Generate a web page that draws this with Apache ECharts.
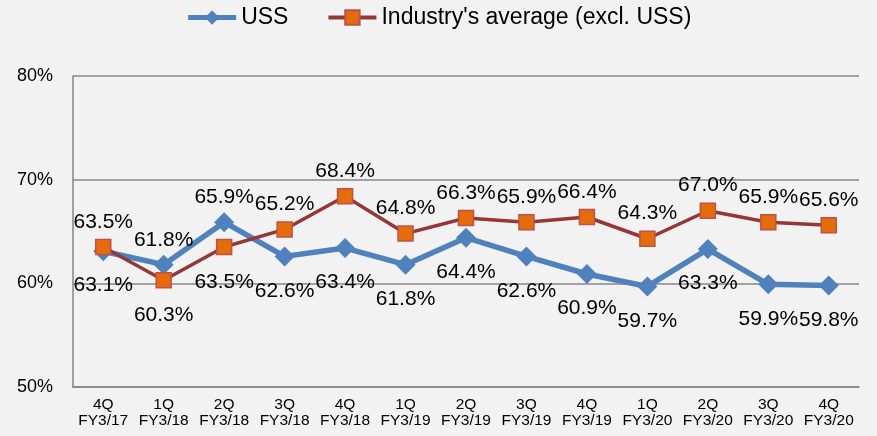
<!DOCTYPE html>
<html>
<head>
<meta charset="utf-8">
<script src="https://cdn.jsdelivr.net/npm/echarts@6/dist/echarts.min.js"></script>
<style>
  html, body { margin: 0; padding: 0; background: #f2f2f2; }
  #chart { width: 877px; height: 436px; }
</style>
</head>
<body>
<div id="chart"></div>
<script>
const categories = ['4Q\nFY3/17', '1Q\nFY3/18', '2Q\nFY3/18', '3Q\nFY3/18', '4Q\nFY3/18', '1Q\nFY3/19',
  '2Q\nFY3/19', '3Q\nFY3/19', '4Q\nFY3/19', '1Q\nFY3/20', '2Q\nFY3/20', '3Q\nFY3/20', '4Q\nFY3/20']
const ussValues = [63.1, 61.8, 65.9, 62.6, 63.4, 61.8, 64.4, 62.6, 60.9, 59.7, 63.3, 59.9, 59.8]
const industryValues = [63.5, 60.3, 63.5, 65.2, 68.4, 64.8, 66.3, 65.9, 66.4, 64.3, 67.0, 65.9, 65.6]

const font = 'Liberation Sans, Arial, sans-serif'

// label goes above for the higher line, below for the lower one
function labelFor(above, symbolSize) {
  const half = symbolSize / 2
  return above
    ? { position: 'top', distance: 14 - half }
    : { position: 'bottom', distance: 24 - half }
}
const ussData = ussValues.map((v, i) => ({
  value: v,
  label: labelFor(v > industryValues[i], 20)
}))
const industryData = industryValues.map((v, i) => ({
  value: v,
  label: labelFor(v >= ussValues[i], 15)
}))

const chart = echarts.init(document.getElementById('chart'))
chart.setOption({
  animation: false,
  backgroundColor: '#f2f2f2',
  textStyle: { fontFamily: font },
  legend: {
    top: 1,
    left: 'center',
    itemWidth: 48,
    itemHeight: 18,
    itemGap: 38,
    textStyle: { fontSize: 23, color: '#000', fontFamily: font },
    data: [
      { name: 'USS', lineStyle: { width: 5 } },
      { name: "Industry's average (excl. USS)", lineStyle: { width: 4 } }
    ]
  },
  grid: { top: 76, left: 73, right: 18, bottom: 49 },
  xAxis: {
    type: 'category',
    data: categories,
    boundaryGap: true,
    axisLine: { lineStyle: { color: '#868686', width: 1.5 } },
    axisTick: { inside: true, length: 5, interval: 0, lineStyle: { color: '#868686' } },
    axisLabel: { interval: 0, color: '#000', fontSize: 15.5, lineHeight: 16, margin: 10, fontFamily: font }
  },
  yAxis: {
    type: 'value',
    min: 50,
    max: 80,
    interval: 10,
    axisLine: { show: true, lineStyle: { color: '#868686', width: 1.5 } },
    axisTick: { show: false },
    splitLine: { lineStyle: { color: '#868686', width: 1.5 } },
    axisLabel: { formatter: '{value}%', color: '#000', fontSize: 18, margin: 20, fontFamily: font }
  },
  series: [
    {
      name: 'USS',
      type: 'line',
      data: ussData,
      symbol: 'diamond',
      symbolSize: 20,
      lineStyle: { color: '#4f81bd', width: 5.5 },
      itemStyle: { color: '#4f81bd' },
      label: {
        show: true,
        fontSize: 21,
        color: '#000',
        fontFamily: font,
        formatter: p => p.value.toFixed(1) + '%'
      },
      z: 2
    },
    {
      name: "Industry's average (excl. USS)",
      type: 'line',
      data: industryData,
      symbol: 'rect',
      symbolSize: 15,
      lineStyle: { color: '#953735', width: 3.5 },
      itemStyle: { color: '#e46c0a', borderColor: '#c0504d', borderWidth: 1.5 },
      label: {
        show: true,
        fontSize: 21,
        color: '#000',
        fontFamily: font,
        formatter: p => p.value.toFixed(1) + '%'
      },
      z: 3
    }
  ]
})
</script>
</body>
</html>
